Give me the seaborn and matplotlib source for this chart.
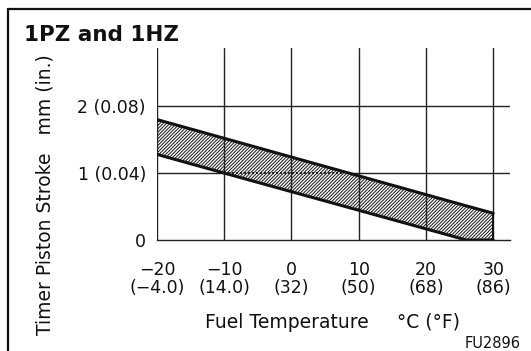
import matplotlib
matplotlib.use("Agg")
import matplotlib.pyplot as plt
import seaborn as sns
import pandas as pd
from matplotlib.lines import Line2D

# Timer piston stroke band vs. fuel temperature
temp_c = [-20, -10, 26, 30]
stroke_upper = [1.80, 1.52, 0.51, 0.40]
stroke_lower = [1.28, 1.00, 0.00, 0.00]

x_ticks = [-20, -10, 0, 10, 20, 30]
x_tick_labels = ["\u221220\n(\u22124.0)", "\u221210\n(14.0)", "0\n(32)",
                 "10\n(50)", "20\n(68)", "30\n(86)"]
y_ticks = [0, 1, 2]
y_tick_labels = ["0", "1 (0.04)", "2 (0.08)"]

ref_line_x = [-10, 7.6]
ref_line_y = [1.0, 1.0]

sns.set_theme(style="white")
plt.rcParams["font.family"] = ["DejaVu Sans"]
plt.rcParams["hatch.linewidth"] = 0.75

W, H = 531, 351
fig = plt.figure(figsize=(W / 100, H / 100), dpi=100)
fig.patch.set_facecolor("white")

left, right, bottom, top = 157, 510, 240, 48
ax = fig.add_axes([left / W, 1 - bottom / H, (right - left) / W, (bottom - top) / H])
ax.set_xlim(-20, 32.5)
ax.set_ylim(0, 2.87)

# grid: horizontal lines sit under the band, vertical lines show through it
for yv in y_ticks[1:]:
    ax.axhline(yv, color="#222222", lw=1.0, zorder=1)
for xv in x_ticks:
    ax.axvline(xv, color="#222222", lw=1.0, zorder=2.5)

df = pd.DataFrame({"temp": temp_c, "upper": stroke_upper, "lower": stroke_lower})
ax.fill_between(df["temp"], df["lower"], df["upper"], facecolor="white",
                edgecolor="#222222", hatch="//////////", lw=0, zorder=2)
sns.lineplot(data=df, x="temp", y="upper", ax=ax, color="#111111", lw=2.2, zorder=3)
sns.lineplot(data=df, x="temp", y="lower", ax=ax, color="#111111", lw=2.2, zorder=3)
ax.plot([30, 30], [0, stroke_upper[-1]], color="#111111", lw=1.4, zorder=3)
ax.plot(ref_line_x, ref_line_y, color="#111111", lw=1.2, ls=(0, (1.2, 1.2)), zorder=3)

for s in ["top", "right", "left"]:
    ax.spines[s].set_visible(False)
ax.spines["bottom"].set_color("#222222")
ax.spines["bottom"].set_linewidth(1.0)

ax.set_xticks(x_ticks)
ax.set_xticklabels(x_tick_labels, fontsize=12.5, linespacing=1.0, color="#111111")
ax.set_yticks(y_ticks)
ax.set_yticklabels(y_tick_labels, fontsize=12.5, color="#111111")
ax.tick_params(axis="x", length=0, pad=15)
ax.tick_params(axis="y", length=0, pad=8)
ax.set_xlabel("")
ax.set_ylabel("")

fig.text(24 / W, 1 - 41 / H, "1PZ and 1HZ", fontsize=15.5, fontweight="bold",
         ha="left", va="baseline", color="#111111")
fig.text(45 / W, 1 - 195 / H, "Timer Piston Stroke   mm (in.)", rotation=90,
         fontsize=13.5, ha="center", va="center", color="#111111")
fig.text(205 / W, 1 - 322 / H, "Fuel Temperature", fontsize=13.5,
         ha="left", va="center", color="#111111")
fig.text(397 / W, 1 - 322 / H, "\u00b0C (\u00b0F)", fontsize=13.5,
         ha="left", va="center", color="#111111")
fig.text(521 / W, 1 - 343 / H, "FU2896", fontsize=10.5,
         ha="right", va="center", color="#111111")

# frame corner
fig.add_artist(Line2D([8 / W, 8 / W], [0, 1 - 9 / H], transform=fig.transFigure,
                      color="#111111", lw=1.6))
fig.add_artist(Line2D([8 / W, 1], [1 - 9 / H, 1 - 9 / H], transform=fig.transFigure,
                      color="#111111", lw=1.6))

fig.savefig("out.png", dpi=100, facecolor="white")
